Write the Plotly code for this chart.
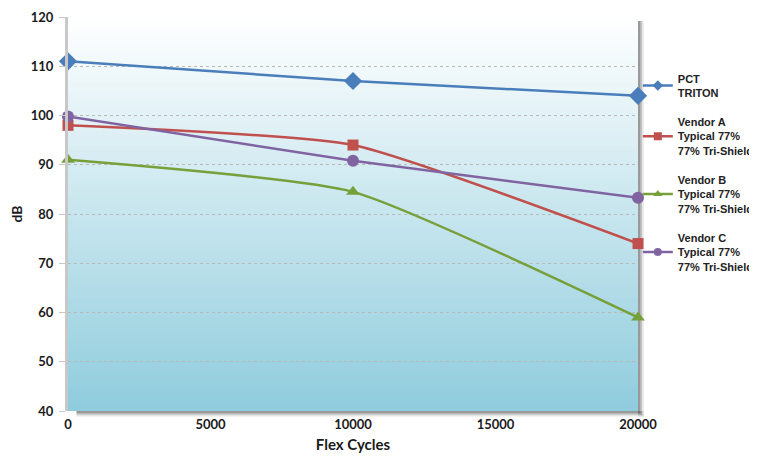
import plotly.graph_objects as go

cycles = [0, 10000, 20000]
pct_triton = [111, 107, 104]
vendor_a = [98, 94, 74]
vendor_b = [91, 84.5, 59]
vendor_c = [99.8, 90.8, 83.3]
x_ticks = [0, 5000, 10000, 15000, 20000]
x_tick_labels = ["0", "5000", "10000", "15000", "20000"]

series = [
    ("PCT<br>TRITON", pct_triton, "#4a7ebb", "diamond", 14, 8),
    ("Vendor A<br>Typical 77%<br>77% Tri-Shield", vendor_a, "#c0504d", "square", 11, 8),
    ("Vendor B<br>Typical 77%<br>77% Tri-Shield", vendor_b, "#77a03a", "triangle-up", 12, 8),
    ("Vendor C<br>Typical 77%<br>77% Tri-Shield", vendor_c, "#8064a2", "circle", 12, 8),
]

fig = go.Figure()
for i, (name, vals, color, sym, size, lsize) in enumerate(series):
    fig.add_trace(go.Scatter(
        x=cycles, y=vals, name=name, mode="lines+markers",
        line=dict(color=color, width=2.5, shape="spline", smoothing=0.5),
        marker=dict(symbol=sym, size=size, color=color),
        cliponaxis=False, showlegend=False,
    ))
for i, (name, vals, color, sym, size, lsize) in enumerate(series):
    fig.add_trace(go.Scatter(
        x=[None], y=[None], name=name, mode="lines+markers",
        line=dict(color=color, width=2.5),
        marker=dict(symbol=sym, size=lsize, color=color),
        showlegend=True, legendgroup=str(i),
    ))

# gradient background bands
shapes = []
n = 80
top = (255, 255, 255)
bot = (143, 204, 221)
for k in range(n):
    f0 = k / n
    f1 = (k + 1) / n
    t = 1 - (f0 + f1) / 2
    c = tuple(int(round(top[j] + (bot[j] - top[j]) * t)) for j in range(3))
    shapes.append(dict(type="rect", xref="x domain", yref="y domain",
                       x0=0, x1=1, y0=f0, y1=f1 + 0.002, layer="below",
                       line=dict(width=0), fillcolor="rgb(%d,%d,%d)" % c))
# shadows on right and bottom
for w, op in [(0.010, 0.15), (0.007, 0.25), (0.004, 0.4)]:
    shapes.append(dict(type="rect", xref="paper", yref="paper",
                       x0=1.0, x1=1.0 + w, y0=-w * 1.4, y1=0.99,
                       layer="below", line=dict(width=0),
                       fillcolor="rgba(90,90,90,%g)" % op))
    shapes.append(dict(type="rect", xref="paper", yref="paper",
                       x0=0.015, x1=1.0 + w, y0=-w * 1.4, y1=0,
                       layer="below", line=dict(width=0),
                       fillcolor="rgba(90,90,90,%g)" % op))

tickfont = dict(family="Lato", size=13, color="#1a1a1a", weight="bold")

fig.update_layout(
    width=757, height=468,
    margin=dict(l=60, r=127, t=9, b=65, autoexpand=False),
    paper_bgcolor="white", plot_bgcolor="white",
    shapes=shapes,
    showlegend=True,
    legend=dict(xref="container", yref="container", x=0.832, y=0.879,
                xanchor="left", yanchor="top",
                font=dict(family="Liberation Sans", size=11, color="#222", weight="bold"),
                tracegroupgap=12, itemwidth=30, bgcolor="rgba(0,0,0,0)"),
    xaxis=dict(range=[0, 20000], tickvals=x_ticks, ticktext=x_tick_labels,
               showgrid=False, zeroline=False, showline=False, automargin=False,
               ticks="", tickfont=tickfont, ticklabelstandoff=4,
               ticklabeloverflow="allow",
               title=dict(text="Flex Cycles", font=dict(family="Lato", size=15, color="#1a1a1a", weight="bold"), standoff=8)),
    yaxis=dict(range=[40, 120], dtick=10, showgrid=True, gridcolor="#b8b8b8",
               griddash="dot", gridwidth=1, zeroline=False, automargin=False,
               showline=True, linecolor="#c8c8c8", linewidth=3,
               ticks="outside", ticklen=6, tickcolor="#c8c8c8",
               tickfont=tickfont, ticklabelstandoff=3,
               ticklabeloverflow="allow",
               title=dict(text="dB", font=dict(family="Lato", size=14, color="#1a1a1a", weight="bold"), standoff=14)),
)

fig.write_html("out.html")
